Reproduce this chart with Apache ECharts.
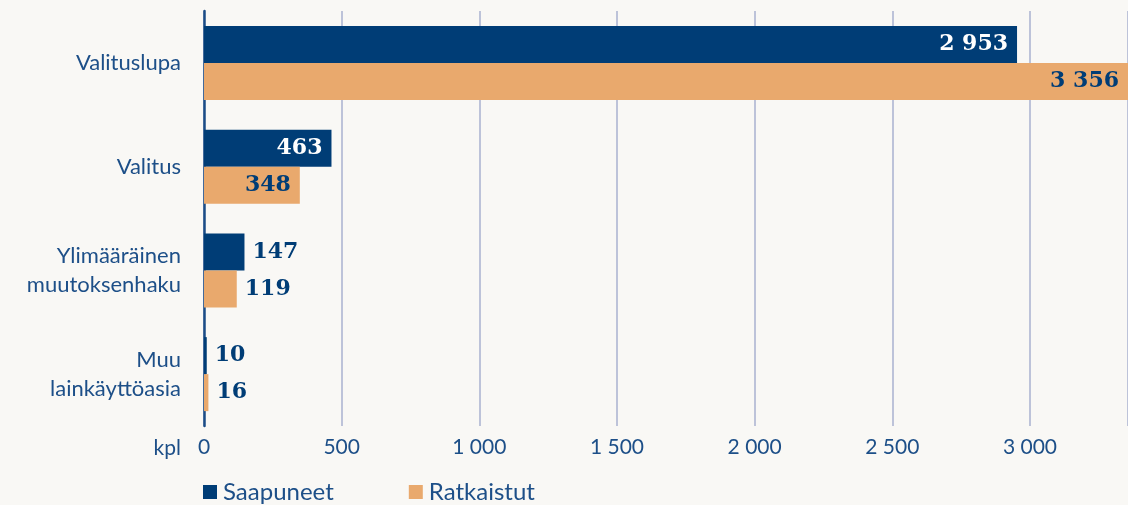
<!DOCTYPE html>
<html>
<head>
<meta charset="utf-8">
<script src="https://cdn.jsdelivr.net/npm/echarts@6/dist/echarts.min.js"></script>
<style>
  html, body { margin: 0; padding: 0; background: #f9f8f5; }
  #main { width: 1128px; height: 505px; }
</style>
</head>
<body>
<div id="main"></div>
<script>
// data
var categories = ['Valituslupa', 'Valitus', 'Ylimääräinen\nmuutoksenhaku', 'Muu\nlainkäyttöasia'];
var saapuneet = [2953, 463, 147, 10];
var ratkaistut = [3356, 348, 119, 16];
var seriesNames = ['Saapuneet', 'Ratkaistut'];
var axisUnit = 'kpl';

var darkBlue = '#003d76';
var orange = '#e9a96d';
var textBlue = '#1d4f88';

function fmt(v) {
    return String(v).replace(/\B(?=(\d{3})+(?!\d))/g, ' ');
}

// big bars get their label inside, small ones outside
function buildData(values, insideColor) {
    return values.map(function (v) {
        if (v >= 300) {
            return { value: v, label: { position: 'insideRight', distance: 9, color: insideColor } };
        }
        return { value: v, label: { position: 'right', distance: 8, color: darkBlue } };
    });
}

var labelStyle = {
    show: true,
    fontFamily: 'DejaVu Serif',
    fontWeight: 'bold',
    fontSize: 22,
    formatter: function (p) { return fmt(p.value); }
};

var myChart = echarts.init(document.getElementById('main'));
var option = {
    backgroundColor: '#f9f8f5',
    animation: false,
    textStyle: { fontFamily: 'Lato' },
    grid: {
        left: 204,
        top: 11,
        width: 928,
        height: 415,
        containLabel: false
    },
    legend: {
        data: seriesNames,
        left: 198,
        top: 475,
        icon: 'rect',
        itemWidth: 14,
        itemHeight: 14,
        itemGap: 75,
        textStyle: { fontSize: 24, color: textBlue, fontFamily: 'Lato', padding: [0, 0, 0, 1] }
    },
    xAxis: {
        type: 'value',
        min: 0,
        max: 3356,
        interval: 500,
        axisLine: { show: false },
        axisTick: { show: false },
        axisLabel: {
            margin: 11,
            fontSize: 21,
            color: textBlue,
            fontFamily: 'Lato',
            showMaxLabel: false,
            formatter: function (v) { return fmt(v); }
        },
        splitLine: {
            show: true,
            lineStyle: { color: '#a9b2cf', width: 1.5 }
        }
    },
    yAxis: {
        type: 'category',
        data: categories,
        inverse: true,
        axisTick: { show: false },
        axisLine: {
            show: true,
            lineStyle: { color: '#1b4c86', width: 2.5 }
        },
        axisLabel: {
            margin: 23,
            fontSize: 22,
            lineHeight: 29,
            color: textBlue,
            fontFamily: 'Lato',
            align: 'right'
        }
    },
    graphic: [
        {
            type: 'text',
            x: 181,
            y: 448,
            style: {
                text: axisUnit,
                fontSize: 21,
                fill: textBlue,
                fontFamily: 'Lato',
                align: 'right',
                verticalAlign: 'middle'
            }
        }
    ],
    series: [
        {
            name: seriesNames[0],
            type: 'bar',
            barWidth: 37,
            barGap: '0%',
            itemStyle: { color: darkBlue },
            label: labelStyle,
            data: buildData(saapuneet, '#ffffff')
        },
        {
            name: seriesNames[1],
            type: 'bar',
            barWidth: 37,
            barGap: '0%',
            itemStyle: { color: orange },
            label: labelStyle,
            data: buildData(ratkaistut, darkBlue)
        }
    ]
};
myChart.setOption(option);
</script>
</body>
</html>
